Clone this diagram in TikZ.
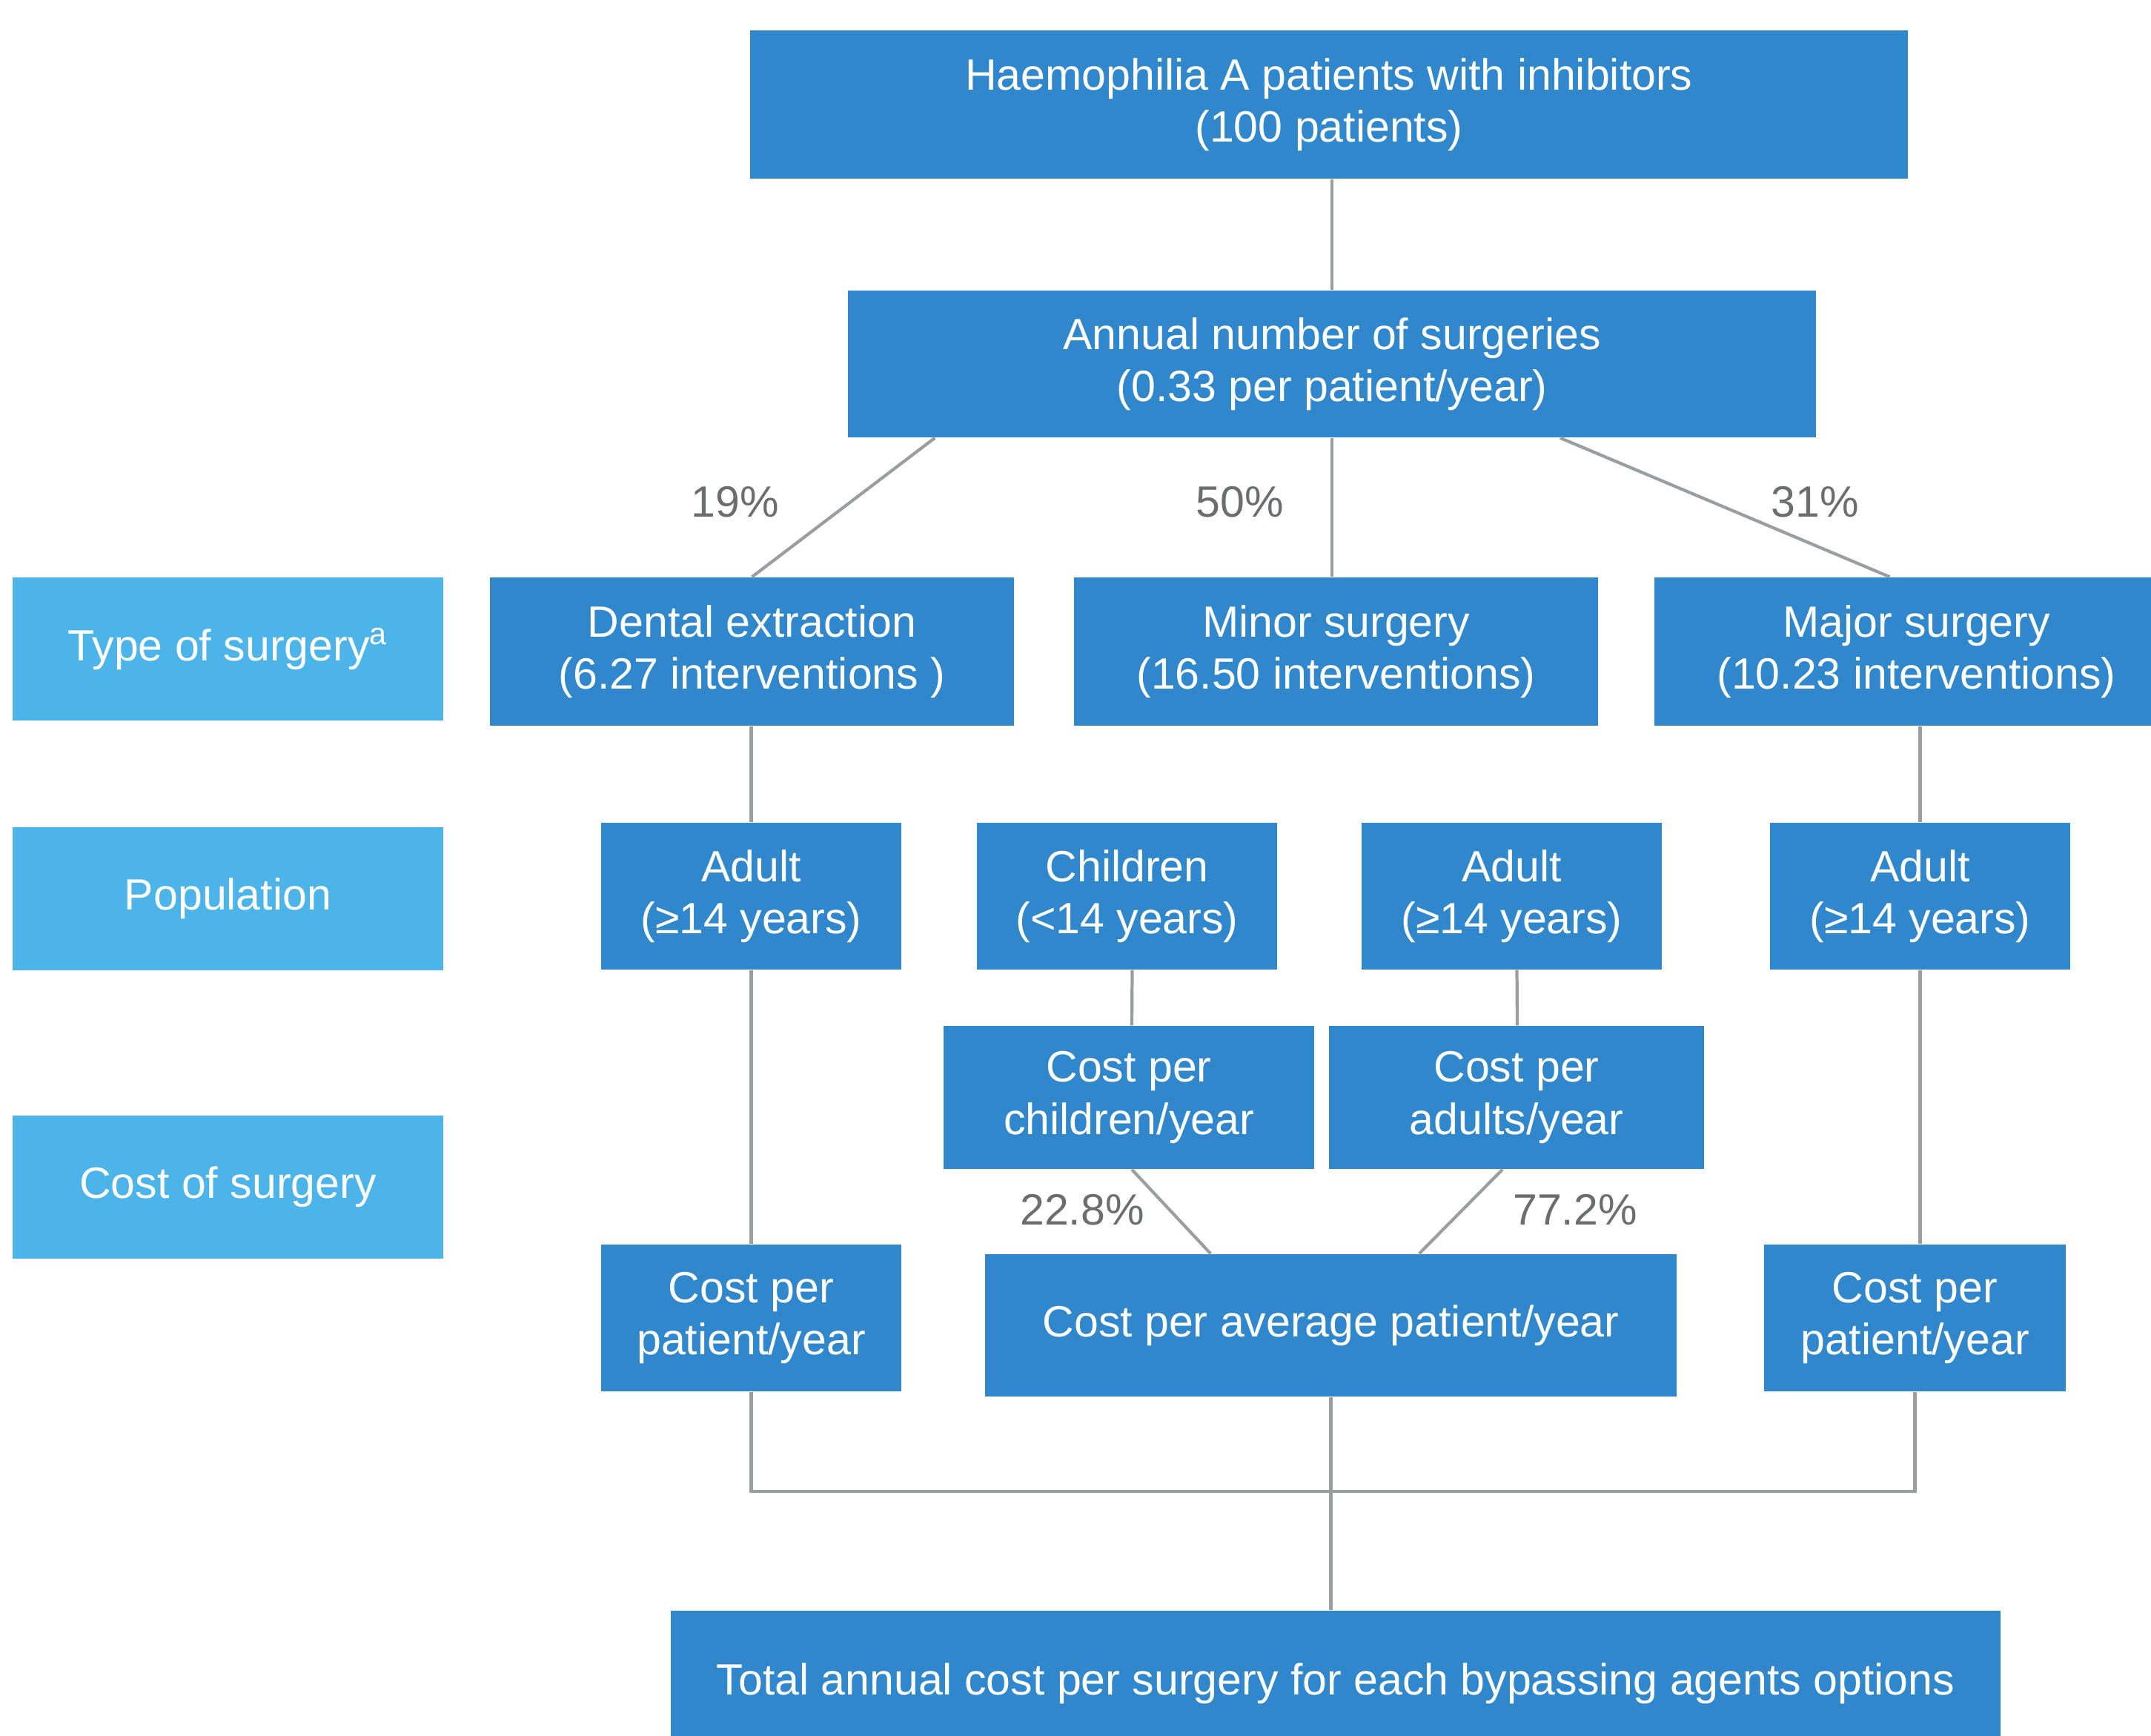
\documentclass[tikz,border=0pt]{standalone}
\usepackage{fontspec}
\setmainfont{Liberation Sans}
\definecolor{darkblue}{HTML}{3087CB}
\definecolor{lightblue}{HTML}{4DB4EA}
\definecolor{linegrey}{HTML}{9A9EA1}
\definecolor{pctgrey}{HTML}{6B6D6E}
\begin{document}
\begin{tikzpicture}[bluebox/.style={rectangle,fill=darkblue,text=white,align=center,inner sep=0pt,
    font=\fontsize{16.8}{20}\selectfont,minimum height=1.98cm,
    execute at begin node={\vspace*{1.4mm}}},
  sidebox/.style={bluebox,fill=lightblue,minimum width=5.81cm,minimum height=1.93cm},
  link/.style={draw=linegrey,line width=1.2pt},
  pct/.style={text=pctgrey,font=\fontsize{16.8}{20}\selectfont,inner sep=0pt}]
\useasboundingbox (0,0) rectangle (29.02,-23.42);
	\node[bluebox,minimum width=15.62cm,minimum height=2.00cm] (top) at (17.93,-1.41)
	{Haemophilia A patients with inhibitors\\(100 patients)};
	\node[bluebox,minimum width=13.06cm] (annual) at (17.97,-4.91)
	{Annual number of surgeries\\(0.33 per patient/year)};
	\node[sidebox] (typelbl) at (3.075,-8.755) {Type of surgery\textsuperscript{a}};
	\node[sidebox] (poplbl) at (3.075,-12.12) {Population};
	\node[sidebox] (costlbl) at (3.075,-16.01) {Cost of surgery};
	\node[bluebox,minimum width=7.07cm,minimum height=2.00cm] (dental) at (10.145,-8.79)
	{Dental extraction\\(6.27 interventions )};
	\node[bluebox,minimum width=7.07cm,minimum height=2.00cm] (minor) at (18.025,-8.79)
	{Minor surgery\\(16.50 interventions)};
	\node[bluebox,minimum width=7.07cm,minimum height=2.00cm] (major) at (25.855,-8.79)
	{Major surgery\\(10.23 interventions)};
	\node[bluebox,minimum width=4.05cm] (adult1) at (10.135,-12.09) {Adult\\(≥14 years)};
	\node[bluebox,minimum width=4.05cm] (children) at (15.205,-12.09) {Children\\(<14 years)};
	\node[bluebox,minimum width=4.05cm] (adult2) at (20.395,-12.09) {Adult\\(≥14 years)};
	\node[bluebox,minimum width=4.05cm] (adult3) at (25.905,-12.09) {Adult\\(≥14 years)};
	\node[bluebox,minimum width=5.00cm,minimum height=1.93cm] (costch) at (15.23,-14.805)
	{Cost per\\children/year};
	\node[bluebox,minimum width=5.06cm,minimum height=1.93cm] (costad) at (20.46,-14.805)
	{Cost per\\adults/year};
	\node[bluebox,minimum width=4.05cm] (cpp1) at (10.135,-17.78) {Cost per\\patient/year};
	\node[bluebox,minimum width=9.33cm,minimum height=1.92cm] (avg) at (17.955,-17.88)
	{Cost per average patient/year};
	\node[bluebox,minimum width=4.07cm] (cpp3) at (25.835,-17.78) {Cost per\\patient/year};
	\node[bluebox,minimum width=17.94cm,minimum height=1.96cm] (total) at (18.02,-22.71)
	{Total annual cost per surgery for each bypassing agents options};
	\coordinate (join) at (17.90,-20.12);
\draw[link] (annual.north) -- (annual.north |- top.south);
\draw[link] ([xshift=1.18cm]annual.south west) -- (dental.north);
\draw[link] (annual.south) -- (annual.south |- minor.north);
\draw[link] ([xshift=-3.46cm]annual.south east) -- ([xshift=-0.36cm]major.north);
\draw[link] (adult1.north) -- (adult1.north |- dental.south);
\draw[link] (adult3.north) -- (adult3.north |- major.south);
\draw[link] (adult1.south) -- (cpp1.north);
\draw[link] (adult3.south) -- (adult3.south |- cpp3.north);
\draw[link] ([xshift=0.07cm]children.south) -- ([xshift=0.04cm]costch.north);
\draw[link] ([xshift=0.07cm]adult2.south) -- ([xshift=0.01cm]costad.north);
\draw[link] ([xshift=0.04cm]costch.south) -- ([xshift=3.05cm]avg.north west);
\draw[link] ([xshift=-0.19cm]costad.south) -- ([xshift=-3.48cm]avg.north east);
\draw[link] (cpp1.south) |- (join) -| (cpp3.south);
\draw[link] (avg.south) -- (avg.south |- total.north);
	\node[pct] (p19) at (9.92,-6.77) {19\%};
	\node[pct] (p50) at (16.73,-6.77) {50\%};
	\node[pct] (p31) at (24.49,-6.77) {31\%};
	\node[pct] (p228) at (14.60,-16.32) {22.8\%};
	\node[pct] (p772) at (21.25,-16.32) {77.2\%};
\end{tikzpicture}
\end{document}
